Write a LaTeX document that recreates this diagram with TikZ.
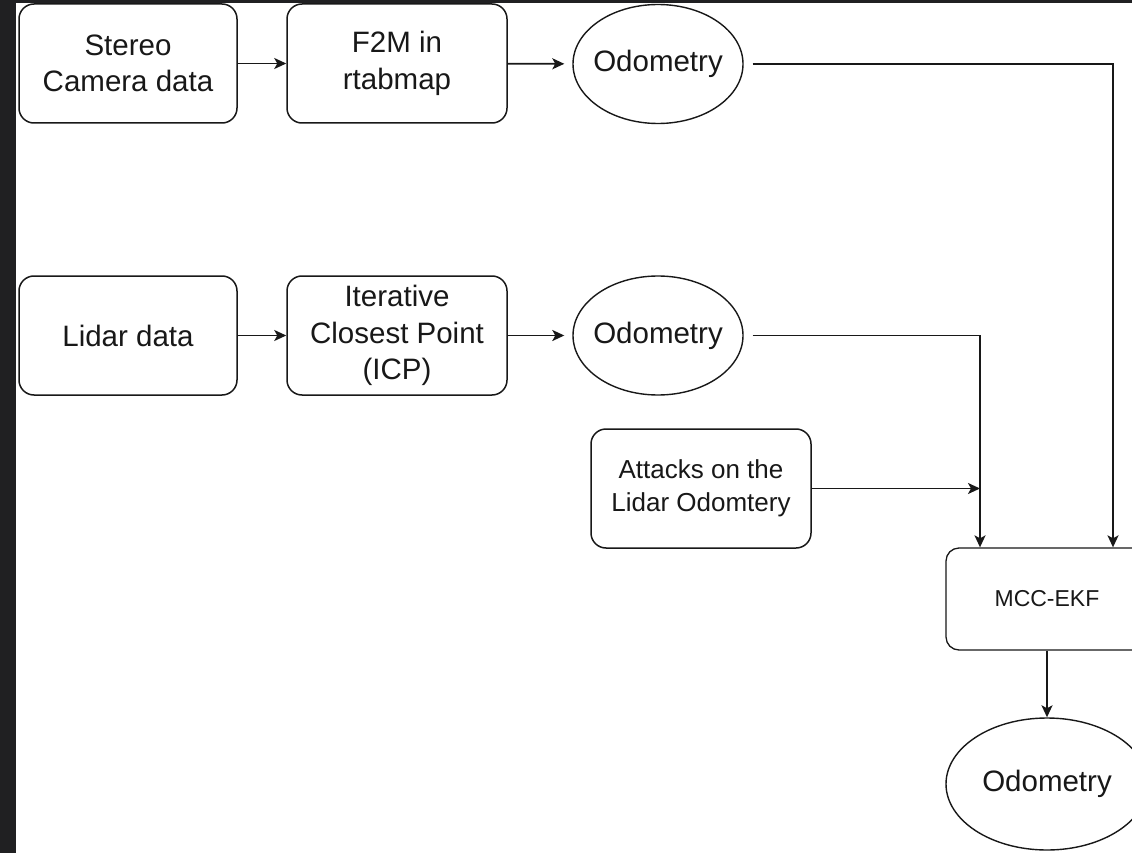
\documentclass[tikz,border=0pt]{standalone}
\usepackage{fontspec}
\setmainfont{Liberation Sans}
\usetikzlibrary{shapes.geometric,arrows.meta}
\definecolor{bgdark}{RGB}{32,32,34}
\definecolor{ink}{RGB}{24,24,24}
\begin{document}
\begin{tikzpicture}[x=1pt,y=-1pt,
  box/.style={draw=ink, rounded corners=15pt, line width=1.5pt, minimum width=218pt,
    minimum height=119pt, align=center, inner sep=0pt, text=ink,
    font=\fontsize{29.5}{36.5}\selectfont},
  oval/.style={draw=ink, ellipse, line width=1.4pt, minimum width=170pt,
    minimum height=119pt, inner sep=0pt, text=ink,
    font=\fontsize{29.5}{36}\selectfont},
  conn/.style={draw=ink, line width=1.9pt, -{Stealth[length=12pt,width=11pt,inset=3pt]}}
]
\useasboundingbox (0,0) rectangle (1132,853);
\clip (0,0) rectangle (1132,853);
\fill[white] (0,0) rectangle (1132,853);
\fill[bgdark] (0,0) rectangle (16,853);
\fill[bgdark] (0,0) rectangle (1132,3);

\node[box] (stereo) at (128,63.5) {Stereo\\Camera data};
\node[box, minimum width=220pt] (f2m) at (397,63.5) {F2M in\\rtabmap};
\node[oval] (odo1) at (658,64) {\makebox[60pt]{Odometry}};

\node[box] (lidar) at (128,335.5) {Lidar data};
\node[box, minimum width=220pt] (icp) at (397,335.5) {Iterative\\Closest Point\\(ICP)};
\node[oval] (odo2) at (658,335.5) {\makebox[60pt]{Odometry}};

\node[box, minimum width=220pt, font=\fontsize{26}{33}\selectfont] (attacks) at (701,488.5) {Attacks on the\\Lidar Odomtery};

\node[box, rounded corners=13pt, minimum width=202pt, minimum height=102pt, line width=1.3pt,
  font=\fontsize{23}{28}\selectfont] (mcc) at (1047,599) {MCC-EKF};
\node[oval, minimum width=202pt, minimum height=132pt] (odo3) at (1047,784) {\makebox[60pt]{Odometry}};

\coordinate (mccR) at ([xshift=66pt]mcc.north);
\coordinate (mccL) at ([xshift=-67pt]mcc.north);
\coordinate (join) at (mccL |- attacks.east);

\draw[conn] (stereo) -- (f2m);
\draw[conn, shorten >=8pt] (f2m) -- (odo1);
\draw[conn] (lidar) -- (icp);
\draw[conn, shorten >=8pt] (icp) -- (odo2);
\draw[conn, shorten <=9pt] (odo1.east) -| (mccR);
\draw[conn, shorten <=9pt] (odo2.east) -| (mccL);
\draw[conn] (attacks) -- (join);
\draw[conn] (mcc) -- (odo3);
\end{tikzpicture}
\end{document}
